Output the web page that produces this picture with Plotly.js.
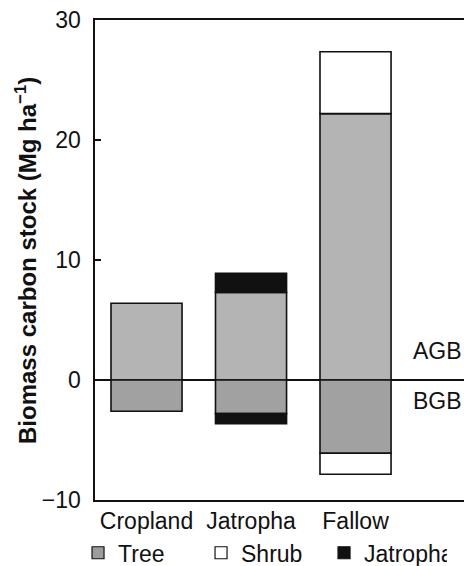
<!DOCTYPE html>
<html>
<head>
<meta charset="utf-8">
<script src="https://cdn.plot.ly/plotly-3.0.1.min.js"></script>
<style>html,body{margin:0;padding:0;overflow:hidden;background:#fff}#chart{width:464px;height:566px}</style>
</head>
<body>
<div id="chart"></div>
<script>
// Data (Mg ha-1)
const categories = ["Cropland", "Jatropha", "Fallow"];
const treeAGB = [6.4, 7.3, 22.2];
const treeBGB = [-2.6, -2.8, -6.1];
const shrubAGB = [null, null, 5.15];
const shrubBGB = [null, null, -1.75];
const jatrophaAGB = [null, 1.6, null];
const jatrophaBGB = [null, -0.85, null];
const legendNames = ["Tree", "Shrub", "Jatropha"];
const yTicks = [-10, 0, 10, 20, 30];

const FONT = "Liberation Sans, Arial, sans-serif";
const FS = 23;
const line = {color: "#111", width: 1.6};
function bar(y, color) {
  return {type: "bar", x: categories, y: y, marker: {color: color, line: line},
          showlegend: false, hoverinfo: "skip"};
}
const legendColors = ["#9c9c9c", "#ffffff", "#111111"];
const data = [
  bar(treeAGB, "#b4b4b4"),
  bar(treeBGB, "#a1a1a1"),
  bar(shrubAGB, "#ffffff"),
  bar(shrubBGB, "#ffffff"),
  bar(jatrophaAGB, "#111111"),
  bar(jatrophaBGB, "#111111")
];
legendNames.forEach((n, i) => {
  data.push({type: "bar", x: [null], y: [null], name: n,
             marker: {color: legendColors[i], line: {color: "#111", width: 1.2}}, showlegend: true});
});

const layout = {
  width: 464, height: 566,
  margin: {l: 95, r: 0, t: 20, b: 66, autoexpand: false},
  paper_bgcolor: "#fff", plot_bgcolor: "#fff",
  barmode: "relative", bargap: 0.32,
  font: {family: FONT, size: FS, color: "#111"},
  xaxis: {range: [-0.493, 3.038], showline: true, linecolor: "#111", linewidth: 1.6,
          mirror: true, ticks: "", showgrid: false, zeroline: false, automargin: false,
          ticklabelstandoff: 0,
          tickfont: {size: FS, family: FONT, color: "#111"}, fixedrange: true},
  yaxis: {range: [-10, 30], tickvals: yTicks, showline: true, linecolor: "#111", linewidth: 1.6,
          ticks: "inside", ticklen: 6, tickcolor: "#111", tickwidth: 1.4, showgrid: false,
          zeroline: true, zerolinecolor: "#111", zerolinewidth: 1.6, automargin: false,
          ticklabelstandoff: 8,
          tickfont: {size: FS, family: FONT, color: "#111"}, fixedrange: true},
  showlegend: true,
  legend: {orientation: "h", x: -0.046, xanchor: "left", y: -0.11, yanchor: "middle",
           entrywidth: 78, entrywidthmode: "pixels", traceorder: "normal",
           font: {size: FS, family: FONT, color: "#111"}, bgcolor: "rgba(0,0,0,0)"},
  annotations: [
    {text: "Biomass carbon stock (Mg ha<sup>−1</sup>)", xref: "paper", yref: "paper",
     x: -0.187, y: 0.5, xanchor: "center", yanchor: "middle", textangle: -90, showarrow: false,
     font: {size: 24, family: FONT, color: "#111", weight: "bold"}},
    {text: "AGB", xref: "paper", yref: "y", x: 1, y: 2.4, xanchor: "right", yanchor: "middle",
     showarrow: false, font: {size: FS, family: FONT, color: "#111"}},
    {text: "BGB", xref: "paper", yref: "y", x: 1, y: -1.75, xanchor: "right", yanchor: "middle",
     showarrow: false, font: {size: FS, family: FONT, color: "#111"}}
  ]
};
Plotly.newPlot("chart", data, layout, {displayModeBar: false, staticPlot: true});
</script>
</body>
</html>
